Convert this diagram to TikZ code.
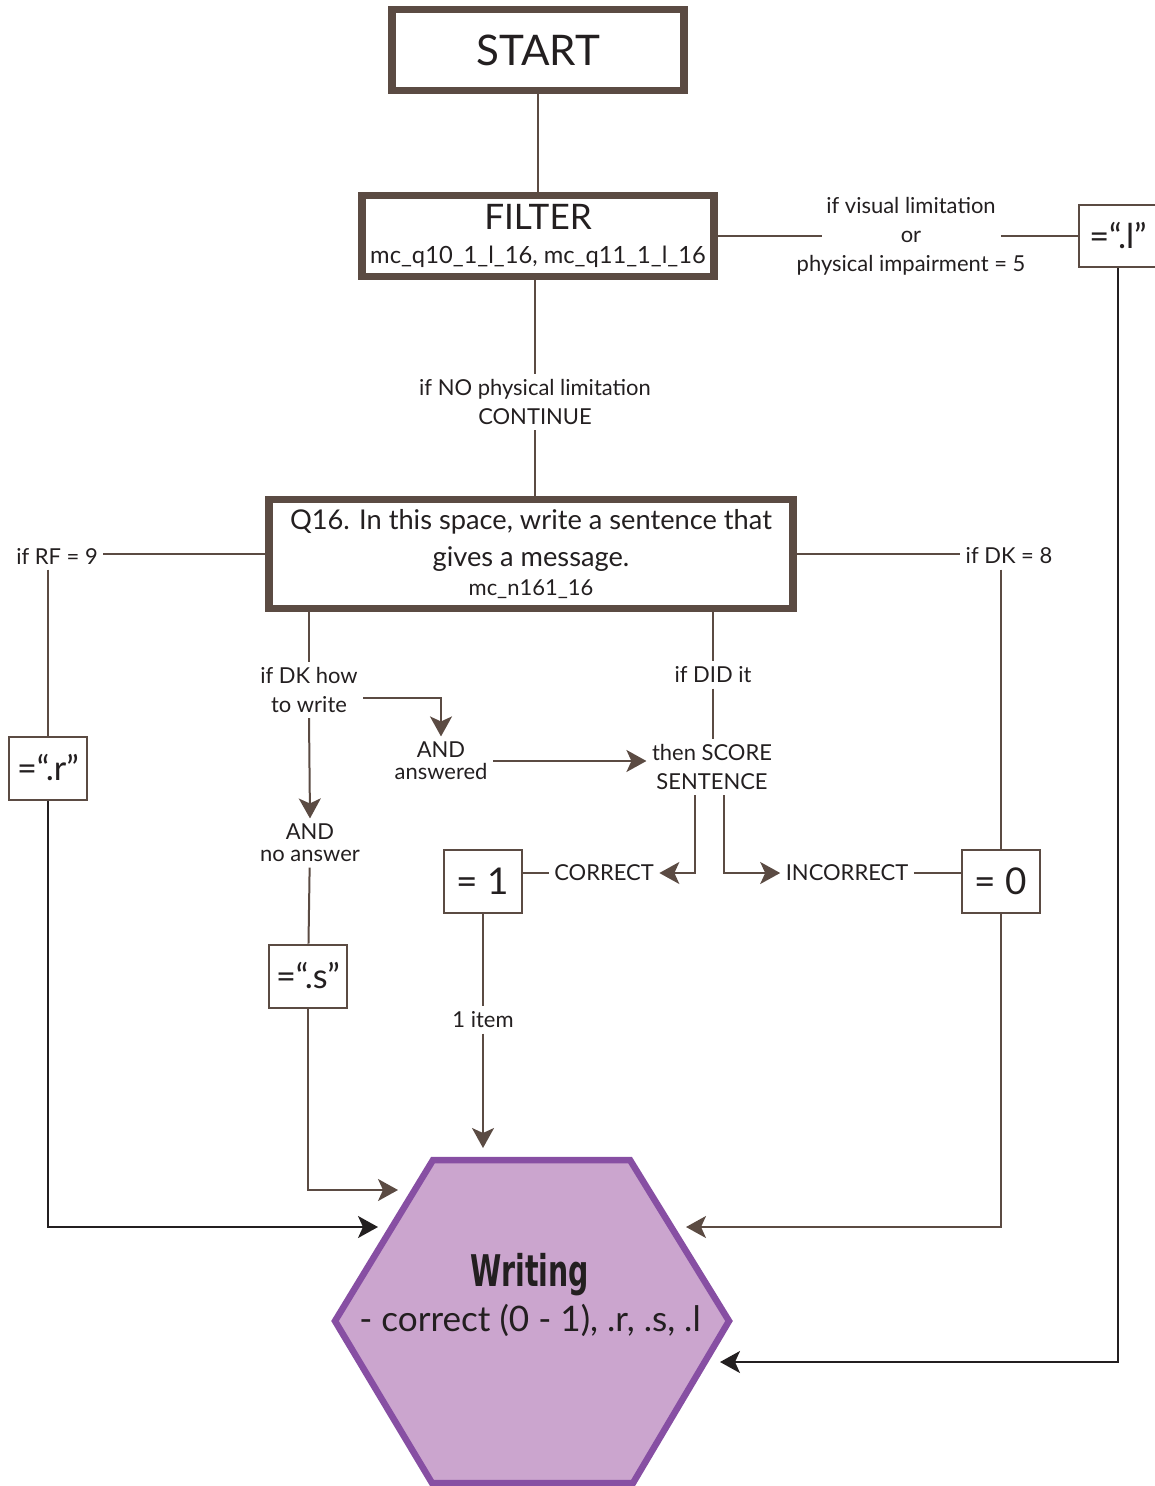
\documentclass[tikz,border=0pt]{standalone}
\usepackage{fontspec}
\setmainfont{Lato}
\newfontfamily\writingfont{DejaVu Sans Condensed}
\usetikzlibrary{arrows.meta,positioning,calc}

\definecolor{boxbrown}{HTML}{5B4B43}
\definecolor{textdark}{HTML}{231F20}
\definecolor{arrowblack}{HTML}{231F20}
\definecolor{hexpurple}{HTML}{874FA3}
\definecolor{hexfill}{HTML}{CBA5CE}

\begin{document}
\begin{tikzpicture}[x=0.02cm,y=-0.02cm]

\tikzstyle{bigbox}=[draw=boxbrown,line width=0.15cm,align=center,text=textdark,inner sep=0pt]
\tikzstyle{valbox}=[draw=boxbrown,line width=0.04cm,minimum width=1.56cm,minimum height=1.26cm,inner sep=0pt,text=textdark,font=\fontsize{21}{24}\selectfont]
\tikzstyle{quotebox}=[valbox,font=\fontsize{19.5}{24}\selectfont]
\tikzstyle{lbl}=[align=center,inner sep=3pt,text=textdark,font=\fontsize{12.5}{16.4}\selectfont]
\tikzstyle{andlbl}=[lbl,font=\fontsize{12.5}{12.5}\selectfont]
\tikzstyle{conn}=[draw=boxbrown,line width=0.04cm]
\tikzstyle{arr}=[conn,-{Stealth[length=0.4cm,width=0.44cm,inset=0.1cm]}]
\tikzstyle{blkarr}=[arr,draw=arrowblack]
\tikzstyle{hexline}=[draw=hexpurple,fill=hexfill,line width=0.13cm,line join=miter]

\useasboundingbox (0,0) rectangle (1154,1486);

% NODES
% start & filter
\node[bigbox,minimum width=5.85cm,minimum height=1.63cm,font=\fontsize{24}{27}\selectfont](start) at (538,50){START};
\node[bigbox,minimum width=7.05cm,minimum height=1.63cm,font=\fontsize{13.5}{19}\selectfont](filter) at (538,236){{\fontsize{20}{22}\selectfont FILTER}\\mc\_q10\_1\_l\_16, mc\_q11\_1\_l\_16};
\node[lbl](vis) at (911,236){if visual limitation\\or\\physical impairment = 5};
\node[quotebox,anchor=west](lbox) at (1078,236){=“.l”};
\node[lbl](nophys) at (535,402){if NO physical limitation\\CONTINUE};

% question
\node[bigbox,minimum width=10.49cm,minimum height=2.19cm,font=\fontsize{15.5}{21}\selectfont](q16) at (531,554){Q16. In this space, write a sentence that\\gives a message.\\[-4.6pt]{\fontsize{12.5}{14}\selectfont mc\_n161\_16}};
\node[lbl](rf) at (57,556){if RF = 9};
\node[lbl](dkeight) at (1009,556){if DK = 8};
\node[quotebox](rbox) at (48,768){=“.r”};
\node[valbox](zerobox) at (1001,881){= 0};

% scoring
\node[lbl](dkhow) at (309,690){if DK how\\to write};
\node[lbl](did) at (713,675){if DID it};
\node[andlbl](answered) at (441,761){AND\\answered};
\node[lbl](score) at (712,767){then SCORE\\SENTENCE};
\node[andlbl](noans) at (310,843){AND\\no answer};
\node[quotebox](sbox) at (308,976){=“.s”};
\node[lbl](correct) at (604,873){CORRECT};
\node[lbl](incorrect) at (847,873){INCORRECT};
\node[valbox](onebox) at (483,881){= 1};
\node[lbl](item) at (483,1020){1 item};

% writing hexagon
\coordinate (hex-tl) at (433,1160);
\coordinate (hex-tr) at (630,1160);
\coordinate (hex-r) at (729,1321);
\coordinate (hex-br) at (633,1483);
\coordinate (hex-bl) at (432,1483);
\coordinate (hex-l) at (335,1321);
\draw[hexline] (hex-tl) -- (hex-tr) -- (hex-r) -- (hex-br) -- (hex-bl) -- (hex-l) -- cycle;
\node[align=center,text=textdark,font=\fontsize{20}{26}\selectfont](writing) at (530,1295){\scalebox{0.78}[1.08]{\writingfont\bfseries\fontsize{23}{26}\selectfont Writing}\\- correct (0 - 1), .r, .s, .l};

\coordinate (in-item) at (483,1148);
\coordinate (in-s) at (398,1190);
\coordinate (in-r) at (378,1227);
\coordinate (in-zero) at (686,1227);
\coordinate (in-l) at (720,1362);

% ARROWS
\draw[conn](start) -- (filter);
\draw[conn](filter.east) -- ([xshift=0.62cm]vis.west);
\draw[conn]([xshift=-0.6cm]vis.east) -- (lbox.west);
\draw[conn](nophys |- filter.south) -- (nophys);
\draw[conn](nophys) -- (nophys |- q16.north);

\draw[conn](q16.west) -- (q16.west -| rf.east);
\draw[conn](rbox.north |- rf.south) -- (rbox.north);
\draw[conn](q16.east) -- (q16.east -| dkeight.west);
\draw[conn](zerobox.north |- dkeight.south) -- (zerobox.north);

\draw[conn](dkhow.north |- q16.south) -- (dkhow.north);
\draw[arr](dkhow.south) -- (noans.north);
\draw[arr]($(dkhow.east)+(0,8)$) -| (answered.north);
\draw[arr](answered.east) -- (answered.east -| score.west);
\draw[conn](did.north |- q16.south) -- (did);
\draw[conn](did) -- (did |- score.north);
\draw[arr]([xshift=-0.34cm]score.south) |- (correct.east);
\draw[arr]([xshift=0.24cm]score.south) |- (incorrect.west);
\draw[conn](correct.west) -- (correct.west -| onebox.east);
\draw[conn](incorrect.east) -- (incorrect.east -| zerobox.west);

\draw[conn](onebox) -- (item);
\draw[arr](item) -- (in-item);
\draw[conn](noans) -- (sbox);
\draw[arr](sbox.south) |- (in-s);
\draw[blkarr](rbox.south) |- (in-r);
\draw[arr](zerobox.south) |- (in-zero);
\draw[blkarr](lbox.south) |- (in-l);

\end{tikzpicture}
\end{document}
